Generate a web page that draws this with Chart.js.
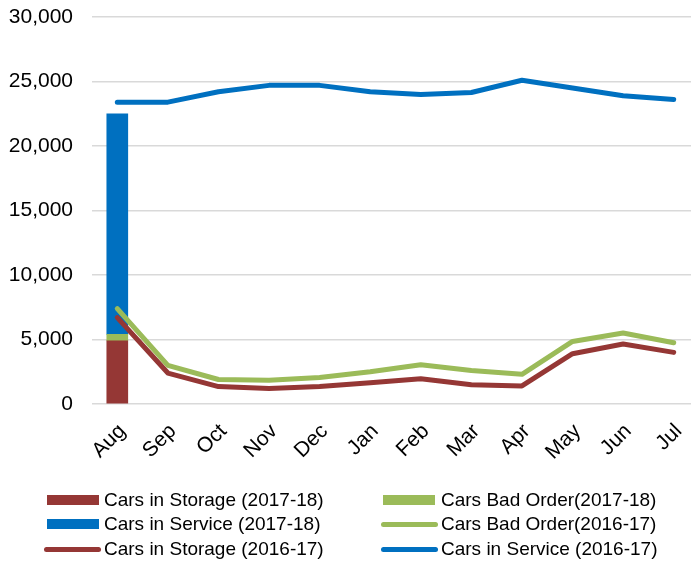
<!DOCTYPE html>
<html><head><meta charset="utf-8">
<script src="https://cdn.jsdelivr.net/npm/chart.js@4/dist/chart.umd.min.js"></script>
<style>
html,body{margin:0;padding:0;background:#fff;overflow:hidden;width:691px;height:563px;}
#wrap{position:absolute;left:0;top:0;width:699px;height:475px;}
#legend{position:absolute;left:0;top:0;width:691px;height:563px;font-family:"Liberation Sans",Arial,sans-serif;font-size:19px;color:#000;pointer-events:none;}
.item{position:absolute;display:flex;align-items:center;height:24px;white-space:nowrap;}
.sw{display:inline-block;flex:none;}
</style></head><body>
<div id="wrap"><canvas id="c" width="699" height="475"></canvas></div>
<div id="legend"></div>
<script>
const months = ['Aug','Sep','Oct','Nov','Dec','Jan','Feb','Mar','Apr','May','Jun','Jul'];
const storage1718  = [4900, null, null, null, null, null, null, null, null, null, null, null];
const badOrder1718 = [500,  null, null, null, null, null, null, null, null, null, null, null];
const service1718  = [17100, null, null, null, null, null, null, null, null, null, null, null];
const badOrder1617 = [7400, 3000, 1900, 1850, 2050, 2500, 3050, 2600, 2300, 4850, 5500, 4750];
const storage1617  = [6700, 2400, 1350, 1200, 1350, 1650, 1950, 1500, 1400, 3900, 4650, 4000];
const service1617  = [23400, 23400, 24200, 24700, 24700, 24200, 24000, 24150, 25100, 24500, 23900, 23600];
const yTicks = [0, 5000, 10000, 15000, 20000, 25000, 30000];

const RED = '#953735', GREEN = '#9BBB59', BLUE = '#0070C0';
const FONT = "'Liberation Sans', Arial, sans-serif";

function barDs(label, data, color) {
  return { type: 'bar', label, data, backgroundColor: color, borderWidth: 0,
           stack: 'bars', order: 2, barThickness: 21 };
}
function lineDs(label, data, color, id) {
  return { type: 'line', label, data, borderColor: color, backgroundColor: color,
           borderWidth: 5, pointRadius: 0, tension: 0, fill: false,
           borderCapStyle: 'round', borderJoinStyle: 'round', stack: id, order: 1 };
}

const datasets = [
  barDs('Cars in Storage (2017-18)', storage1718, RED),
  barDs('Cars Bad Order(2017-18)', badOrder1718, GREEN),
  barDs('Cars in Service (2017-18)', service1718, BLUE),
  lineDs('Cars Bad Order(2016-17)', badOrder1617, GREEN, 'l1'),
  lineDs('Cars in Storage (2016-17)', storage1617, RED, 'l2'),
  lineDs('Cars in Service (2016-17)', service1617, BLUE, 'l3')
];

const chart = new Chart(document.getElementById('c'), {
  data: { labels: months, datasets },
  options: {
    responsive: false, animation: false, devicePixelRatio: 1,
    layout: { padding: { top: 17, left: 0, right: 0, bottom: 0 } },
    plugins: { legend: { display: false }, tooltip: { enabled: false } },
    scales: {
      x: {
        stacked: true,
        grid: { display: false },
        border: { display: false },
        ticks: { color: '#000', font: { family: FONT, size: 21 }, minRotation: 45, maxRotation: 45,
                 padding: 7, labelOffset: 5, autoSkip: false },
        afterFit: s => { s.height = 71; }
      },
      y: {
        stacked: true, min: 0, max: 30000,
        grid: { color: '#D9D9D9', lineWidth: 1.5, drawTicks: true, tickLength: 19, tickColor: 'rgba(0,0,0,0)' },
        border: { display: false },
        afterBuildTicks: s => { s.ticks = yTicks.map(v => ({ value: v })); },
        ticks: { color: '#000', font: { family: FONT, size: 21 }, padding: 0,
                 callback: v => Number(v).toLocaleString('en-US') },
        afterFit: s => { s.width = 92; }
      }
    }
  }
});

// HTML legend, two columns, row-major order of datasets
const legend = document.getElementById('legend');
const colX = [{ bar: 47, line: 44, text: 104 }, { bar: 383, line: 381, text: 441 }];
const rowY = [500, 524, 549];
datasets.forEach((ds, i) => {
  const col = i % 2, row = Math.floor(i / 2);
  const item = document.createElement('div');
  item.className = 'item';
  const isLine = ds.type === 'line';
  const left = isLine ? colX[col].line : colX[col].bar;
  item.style.left = left + 'px';
  item.style.top = (rowY[row] - 12) + 'px';
  const sw = document.createElement('span');
  sw.className = 'sw';
  if (isLine) {
    sw.style.width = '57px'; sw.style.height = '5px'; sw.style.borderRadius = '3px';
    sw.style.background = ds.borderColor;
  } else {
    sw.style.width = '52px'; sw.style.height = '10px';
    sw.style.background = ds.backgroundColor;
  }
  sw.style.marginRight = (colX[col].text - left - (isLine ? 57 : 52)) + 'px';
  const t = document.createElement('span');
  t.textContent = ds.label;
  item.appendChild(sw); item.appendChild(t);
  legend.appendChild(item);
});
</script>
</body></html>
